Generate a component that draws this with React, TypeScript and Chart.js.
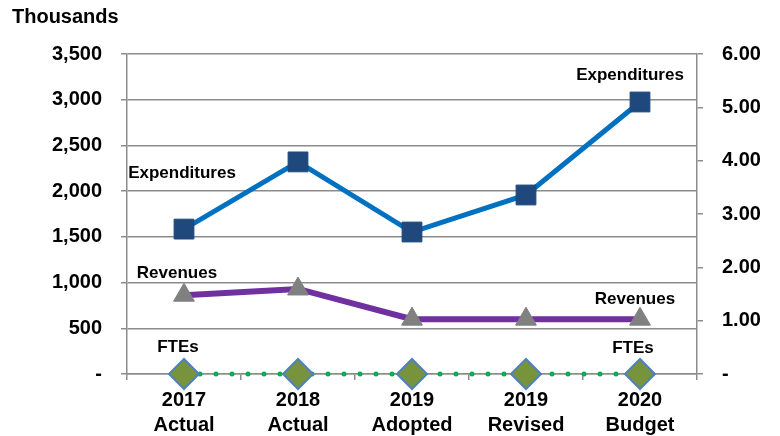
import React, { useEffect, useRef } from "react";
import { Chart, registerables } from "chart.js";

Chart.register(...registerables);

const categories: string[][] = [
  ["2017", "Actual"],
  ["2018", "Actual"],
  ["2019", "Adopted"],
  ["2019", "Revised"],
  ["2020", "Budget"],
];
const expenditures = [1585, 2320, 1553, 1958, 2975];
const revenues = [862, 930, 600, 600, 600];
const ftes = [0, 0, 0, 0, 0];
const leftTicks = [0, 500, 1000, 1500, 2000, 2500, 3000, 3500];
const rightTicks = [0, 1, 2, 3, 4, 5, 6];

const FONT = "'Liberation Sans', Arial, sans-serif";

// [datasetIndex, pointIndex, text, dx, dy]
const pointLabels: [number, number, string, number, number][] = [
  [0, 0, "Expenditures", -2, -56],
  [0, 4, "Expenditures", -10, -27],
  [1, 0, "Revenues", -7, -22],
  [1, 4, "Revenues", -5, -20],
  [2, 0, "FTEs", -6, -27],
  [2, 4, "FTEs", -7, -26],
];

const labelPlugin = {
  id: "pointLabels",
  afterDatasetsDraw(chart: any) {
    const ctx = chart.ctx;
    ctx.save();
    ctx.font = `bold 17px ${FONT}`;
    ctx.fillStyle = "#000";
    ctx.textAlign = "center";
    ctx.textBaseline = "middle";
    pointLabels.forEach(([ds, i, text, dx, dy]) => {
      const el = chart.getDatasetMeta(ds).data[i];
      if (el) ctx.fillText(text, el.x + dx, el.y + dy);
    });
    ctx.font = `bold 20px ${FONT}`;
    ctx.textAlign = "left";
    ctx.fillText("Thousands", 12, 17);
    ctx.restore();
  },
};

export default function App() {
  const ref = useRef<HTMLCanvasElement>(null);
  useEffect(() => {
    document.body.style.margin = "0";
    const chart = new Chart(ref.current!, {
      type: "line",
      data: {
        labels: categories,
        datasets: [
          {
            label: "Expenditures",
            data: expenditures,
            borderColor: "#0070C0",
            borderWidth: 5,
            pointStyle: "rect",
            pointRadius: 14,
            pointBackgroundColor: "#1F497D",
            pointBorderColor: "#1F497D",
            pointBorderWidth: 1,
            yAxisID: "y",
            clip: false,
          },
          {
            label: "Revenues",
            data: revenues,
            borderColor: "#7030A0",
            borderWidth: 6,
            pointStyle: "triangle",
            pointRadius: 12,
            pointBackgroundColor: "#808080",
            pointBorderColor: "#808080",
            pointBorderWidth: 1,
            yAxisID: "y",
            clip: false,
          },
          {
            label: "FTEs",
            data: ftes,
            borderColor: "#00B050",
            borderWidth: 5,
            borderDash: [0, 16],
            borderCapStyle: "round",
            pointStyle: "rectRot",
            pointRadius: 15,
            pointBackgroundColor: "#77933C",
            pointBorderColor: "#4F81BD",
            pointBorderWidth: 2,
            yAxisID: "y2",
            clip: false,
          },
        ],
      },
      options: {
        animation: false,
        responsive: true,
        maintainAspectRatio: false,
        layout: { padding: { top: 54, left: 0, right: 0, bottom: 0 } },
        plugins: { legend: { display: false }, tooltip: { enabled: false } },
        scales: {
          x: {
            offset: true,
            grid: {
              offset: true,
              drawOnChartArea: false,
              drawTicks: true,
              tickLength: 6,
              color: "#8c8c8c",
              lineWidth: 1.5,
            },
            border: { color: "#8c8c8c", width: 1.5 },
            ticks: {
              maxRotation: 0,
              autoSkip: false,
              padding: 8,
              color: "#000",
              font: { family: FONT, size: 20, weight: "bold", lineHeight: 1.25 },
            },
            afterFit(scale: any) {
              scale.height = 62;
            },
          },
          y: {
            position: "left",
            min: 0,
            max: 3500,
            afterBuildTicks(scale: any) {
              scale.ticks = leftTicks.map((v) => ({ value: v }));
            },
            grid: { color: "#8c8c8c", lineWidth: 1.5, tickLength: 6 },
            border: { color: "#8c8c8c", width: 1.5 },
            ticks: {
              padding: 19,
              color: "#000",
              font: { family: FONT, size: 20, weight: "bold" },
              callback: (v: any) => (v === 0 ? "-" : Number(v).toLocaleString("en-US")),
            },
            afterFit(scale: any) {
              scale.width = 127;
            },
          },
          y2: {
            position: "right",
            min: 0,
            max: 6,
            afterBuildTicks(scale: any) {
              scale.ticks = rightTicks.map((v) => ({ value: v }));
            },
            grid: { drawOnChartArea: false, color: "#8c8c8c", lineWidth: 1.5, tickLength: 6 },
            border: { color: "#8c8c8c", width: 1.5 },
            ticks: {
              padding: 19,
              color: "#000",
              font: { family: FONT, size: 20, weight: "bold" },
              callback: (v: any) => (v === 0 ? "-" : Number(v).toFixed(2)),
            },
            afterFit(scale: any) {
              scale.width = 83;
            },
          },
        },
      },
      plugins: [labelPlugin],
    });
    return () => chart.destroy();
  }, []);
  return (
    <div style={{ position: "fixed", left: 0, top: 0, width: 780, height: 436, background: "#fff" }}>
      <canvas ref={ref} />
    </div>
  );
}
